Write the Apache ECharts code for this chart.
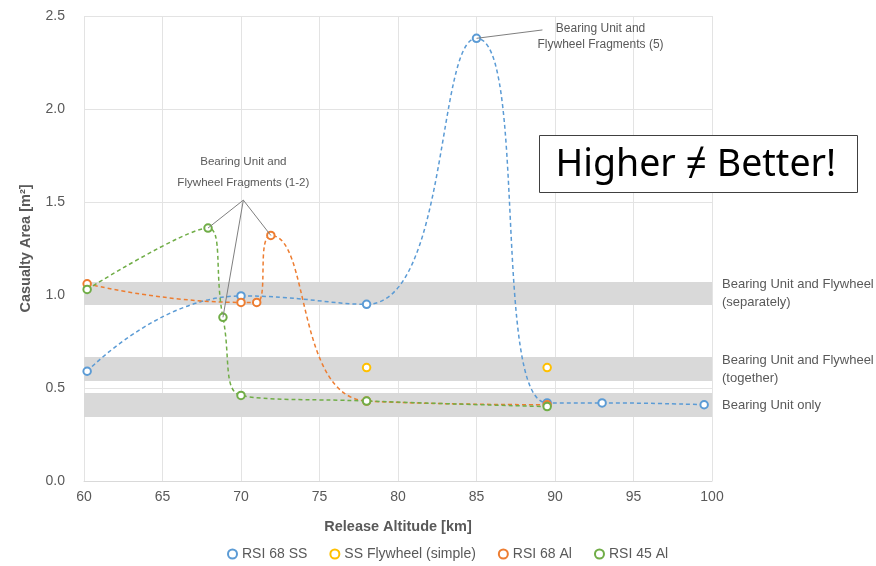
<!DOCTYPE html>
<html>
<head>
<meta charset="utf-8">
<script src="https://cdn.jsdelivr.net/npm/echarts@6/dist/echarts.min.js"></script>
<style>html,body{margin:0;padding:0;background:#fff}#c{width:876px;height:566px}</style>
</head>
<body>
<div id="c"></div>
<script>
// ---- data ----
const xTicks = [60, 65, 70, 75, 80, 85, 90, 95, 100];
const yTicks = [0, 0.5, 1.0, 1.5, 2.0, 2.5];
const seriesNames = ['RSI 68 SS', 'SS Flywheel (simple)', 'RSI 68 Al', 'RSI 45 Al'];
const rsi68ssX = [60.2, 70, 78, 85, 89.5, 93, 99.5];
const rsi68ssY = [0.59, 0.995, 0.95, 2.38, 0.42, 0.42, 0.41];
const ssFlyX = [78, 89.5];
const ssFlyY = [0.61, 0.61];
const rsi68alX = [60.2, 70, 71, 71.9, 78, 89.5];
const rsi68alY = [1.06, 0.96, 0.96, 1.32, 0.43, 0.41];
const rsi45alX = [60.2, 67.9, 68.85, 70, 78, 89.5];
const rsi45alY = [1.03, 1.36, 0.88, 0.46, 0.43, 0.40];
const bandLow = [0.946, 0.538, 0.344];
const bandHigh = [1.07, 0.667, 0.473];
const bandLabels = ['Bearing Unit and Flywheel\n(separately)', 'Bearing Unit and Flywheel\n(together)', 'Bearing Unit only'];
const note1Anchor = [70.15, 1.51];
const note1Targets = [[67.9, 1.36], [71.9, 1.32], [68.85, 0.88]];
const note1Text = 'Bearing Unit and\nFlywheel Fragments (1-2)';
const note2Anchor = [89.2, 2.425];
const note2Target = [85, 2.38];
const note2TextPos = [92.9, 2.387];
const note2Text = 'Bearing Unit and\nFlywheel Fragments (5)';

const colors = ['#5B9BD5', '#FFC000', '#ED7D31', '#70AD47'];
const zip = (xs, ys) => xs.map((x, i) => [x, ys[i]]);

const chart = echarts.init(document.getElementById('c'));
const font = 'Liberation Sans, Arial, sans-serif';

function lineSeries(name, xs, ys, color, showLine) {
  return {
    name: name,
    type: 'line',
    data: zip(xs, ys),
    smooth: 0.5,
    symbol: 'emptyCircle',
    symbolSize: 7.5,
    z: 3,
    itemStyle: { color: color, borderColor: color, borderWidth: 1.8 },
    lineStyle: showLine ? { color: color, width: 1.5, type: [4, 3] } : { opacity: 0, width: 0 },
    emphasis: { disabled: true }
  };
}

const series = [
  lineSeries(seriesNames[0], rsi68ssX, rsi68ssY, colors[0], true),
  lineSeries(seriesNames[1], ssFlyX, ssFlyY, colors[1], false),
  lineSeries(seriesNames[2], rsi68alX, rsi68alY, colors[2], true),
  lineSeries(seriesNames[3], rsi45alX, rsi45alY, colors[3], true),
  {
    name: 'bands', type: 'line', data: [], z: 1, silent: true,
    markArea: {
      silent: true,
      itemStyle: { color: '#d9d9d9' },
      label: { show: true, position: 'right', distance: 10, color: '#595959', fontSize: 13, fontFamily: font, lineHeight: 18, align: 'left' },
      data: bandLow.map((lo, i) => [
        { xAxis: 60, yAxis: lo, name: bandLabels[i] },
        { xAxis: 100, yAxis: bandHigh[i] }
      ])
    }
  },
  {
    name: 'notes', type: 'line', data: [], z: 4, silent: true,
    markLine: {
      silent: true, symbol: ['none', 'none'],
      lineStyle: { color: '#7f7f7f', width: 1, type: 'solid' },
      label: { show: false },
      data: note1Targets.map(t => [{ coord: note1Anchor }, { coord: t }]).concat([[{ coord: note2Target }, { coord: note2Anchor }]])
    },
    markPoint: {
      silent: true, symbol: 'circle', symbolSize: 1, itemStyle: { color: 'rgba(0,0,0,0)' },
      data: [
        { coord: note1Anchor, label: { show: true, position: 'top', distance: 6, formatter: note1Text, color: '#595959', fontSize: 11.6, fontFamily: font, lineHeight: 21, align: 'center' } },
        { coord: note2TextPos, label: { show: true, position: 'inside', formatter: note2Text, color: '#595959', fontSize: 12, fontFamily: font, lineHeight: 16, align: 'center' } }
      ]
    }
  }
];

chart.setOption({
  animation: false,
  backgroundColor: '#fff',
  color: colors,
  grid: { left: 84, right: 164, top: 16, bottom: 85, containLabel: false },
  xAxis: {
    type: 'value', min: 60, max: 100, interval: 5,
    name: 'Release Altitude [km]', nameLocation: 'middle', nameGap: 38,
    nameTextStyle: { fontWeight: 'bold', fontSize: 14.5, color: '#595959', fontFamily: font },
    axisLine: { show: true, lineStyle: { color: '#d9d9d9' } },
    axisTick: { show: false },
    axisLabel: { color: '#595959', fontSize: 14, fontFamily: font, margin: 9, customValues: xTicks },
    splitLine: { show: true, lineStyle: { color: '#e3e3e3' } }
  },
  yAxis: {
    type: 'value', min: 0, max: 2.5, interval: 0.5,
    name: 'Casualty Area [m²]', nameLocation: 'middle', nameGap: 51,
    nameTextStyle: { fontWeight: 'bold', fontSize: 14.5, color: '#595959', fontFamily: font },
    axisLine: { show: false }, axisTick: { show: false },
    axisLabel: { color: '#595959', fontSize: 14, fontFamily: font, margin: 19, formatter: v => v.toFixed(1) },
    splitLine: { show: true, lineStyle: { color: '#e3e3e3' } }
  },
  legend: {
    data: seriesNames,
    left: 222, top: 542,
    icon: 'emptyCircle', itemWidth: 9, itemHeight: 9, itemGap: 22,
    textStyle: { color: '#595959', fontSize: 14, fontFamily: font }
  },
  graphic: [{
    type: 'group', left: 539, top: 135, z: 100,
    children: [
      { type: 'rect', z: 100, shape: { x: 0, y: 0, width: 318, height: 57 }, style: { fill: '#fff', stroke: '#404040', lineWidth: 1 } },
      { type: 'text', z: 101, x: 16, y: 30, style: { text: 'Higher ≠ Better!', font: '37.5px "Noto Sans", sans-serif', fill: '#000', verticalAlign: 'middle' } }
    ]
  }],
  series: series
});
</script>
</body>
</html>
